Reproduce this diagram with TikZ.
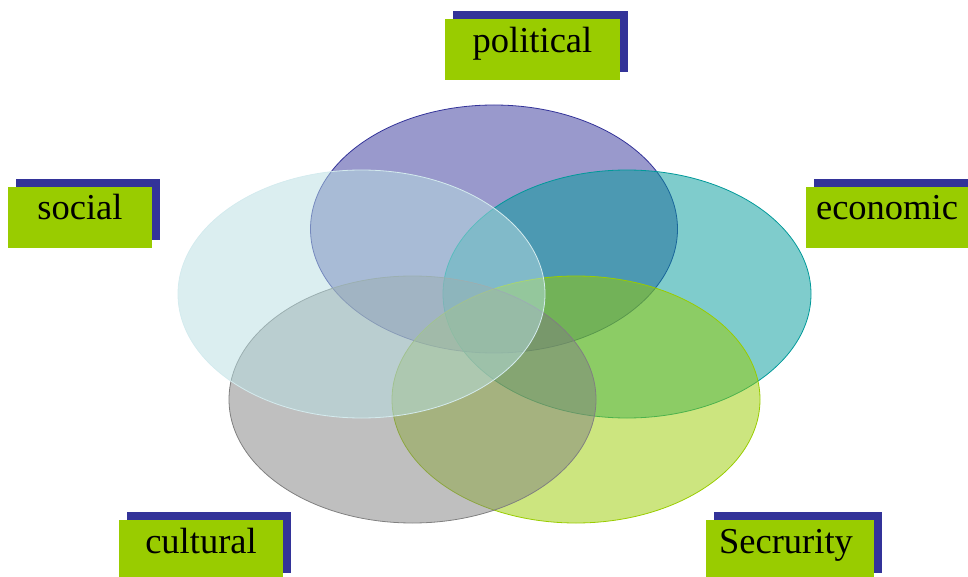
\documentclass[tikz,border=0pt]{standalone}
\usepackage{fontspec}
\setmainfont{Liberation Serif}
\usetikzlibrary{shadows}

\definecolor{navy}{HTML}{333399}
\definecolor{leaf}{HTML}{99CC00}
\definecolor{teal}{HTML}{009999}
\definecolor{stone}{HTML}{808080}
\definecolor{sky}{HTML}{B7DEE2}

\begin{document}
\begin{tikzpicture}[
		x=1pt, y=-1pt,
		set/.style = {fill opacity=0.5, line width=0.8pt},
		tag/.style = {fill=leaf, minimum height=61pt, inner sep=0pt,
			text height=25pt, text depth=20pt,
			font=\fontsize{36.5}{40}\selectfont,
			general shadow={fill=navy, shadow xshift=8pt, shadow yshift=8pt}}
	]
	\useasboundingbox (0,0) rectangle (968,577);
	\clip (0,0) rectangle (968,577);
	% the five sets
	\draw[set, draw=navy, fill=navy] (494,229) ellipse [x radius=183.5, y radius=124];
	\draw[set, draw=teal, fill=teal] (627,294) ellipse [x radius=184, y radius=124];
	\draw[set, draw=leaf, fill=leaf] (576,399.5) ellipse [x radius=184, y radius=123.5];
	\draw[set, draw=stone, fill=stone] (412.5,399.5) ellipse [x radius=183.5, y radius=123.5];
	\draw[set, draw=sky!60, fill=sky] (361.5,294) ellipse [x radius=183.5, y radius=124];
	% labels
	\node[tag, minimum width=175pt] (political) at (532.5,50) {political};
	\node[tag, minimum width=144pt] (social) at (80,217.5) {social};
	\node[tag, minimum width=162pt] (economic) at (887,217.5) {economic};
	\node[tag, minimum width=164pt] (cultural) at (201,550.5) {cultural};
	\node[tag, minimum width=168pt] (security) at (790,550.5) {\hspace*{-8pt}Secrurity};
\end{tikzpicture}
\end{document}
